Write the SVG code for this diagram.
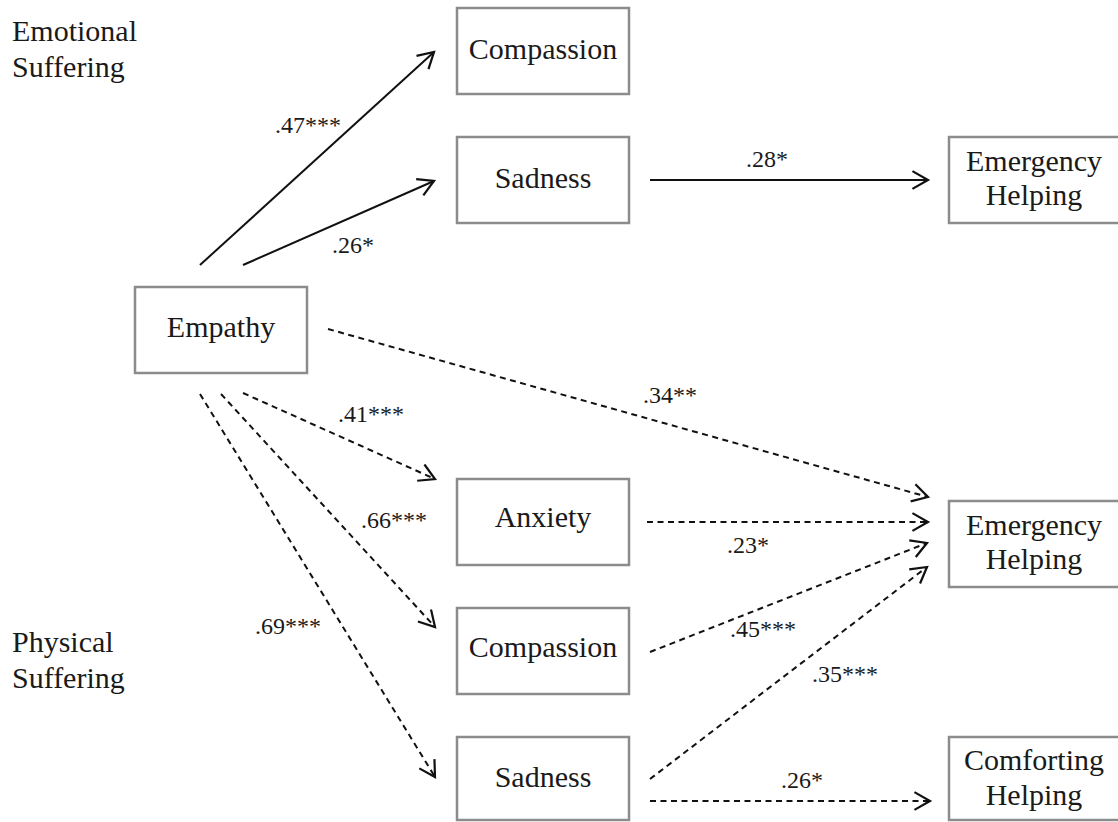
<svg xmlns="http://www.w3.org/2000/svg" width="1118" height="822" viewBox="0 0 1118 822">
<style>
.box{fill:#fff;stroke:#8c8c8c;stroke-width:2.5}
.t{font-family:"Liberation Serif","Times New Roman",serif;font-size:30px;fill:#1a1a1a}
.c{text-anchor:middle}
.lab{font-family:"Liberation Serif","Times New Roman",serif;font-size:24px;fill:#1a1a1a}
.solid{stroke:#111;stroke-width:2;fill:none;marker-end:url(#ah)}
.dash{stroke:#111;stroke-width:2;fill:none;stroke-dasharray:6 4.5;marker-end:url(#ah)}
</style>
<defs>
<marker id="ah" markerUnits="userSpaceOnUse" markerWidth="20" markerHeight="20" viewBox="-1 -1 18 18" refX="14" refY="8" orient="auto">
<path d="M0,0 L14,8 L0,16" fill="none" stroke="#111" stroke-width="2"/>
</marker>
</defs>
<rect width="1118" height="822" fill="#fff"/>
<g id="group-labels">
<text class="t" x="12" y="41">Emotional</text>
<text class="t" x="12" y="77">Suffering</text>
<text class="t" x="12" y="652">Physical</text>
<text class="t" x="12" y="688">Suffering</text>
</g>
<g id="connectors">
<line class="solid" x1="200" y1="265" x2="434" y2="52"/>
<line class="solid" x1="243" y1="265" x2="434" y2="181"/>
<line class="solid" x1="650" y1="180" x2="928" y2="180"/>
<line class="dash" x1="328" y1="329" x2="928" y2="497"/>
<line class="dash" x1="243" y1="393" x2="435" y2="479"/>
<line class="dash" x1="221" y1="394" x2="435" y2="627"/>
<line class="dash" x1="200" y1="394" x2="435" y2="777"/>
<line class="dash" x1="647" y1="522" x2="928" y2="522"/>
<line class="dash" x1="650" y1="652" x2="927" y2="543"/>
<line class="dash" x1="650" y1="779" x2="927" y2="567"/>
<line class="dash" x1="650" y1="801" x2="930" y2="801"/>
<text class="lab" x="275" y="133">.47***</text>
<text class="lab" x="332" y="253">.26*</text>
<text class="lab" x="746" y="167">.28*</text>
<text class="lab" x="643" y="403">.34**</text>
<text class="lab" x="338" y="422">.41***</text>
<text class="lab" x="361" y="528">.66***</text>
<text class="lab" x="727" y="553">.23*</text>
<text class="lab" x="255" y="634">.69***</text>
<text class="lab" x="730" y="637">.45***</text>
<text class="lab" x="812" y="682">.35***</text>
<text class="lab" x="781" y="788">.26*</text>
</g>
<g id="node-empathy">
<rect class="box" x="135" y="287" width="172" height="86"/>
<text class="t c" x="221" y="337">Empathy</text>
</g>
<g id="node-compassion-emotional">
<rect class="box" x="457" y="8" width="172" height="86"/>
<text class="t c" x="543" y="59">Compassion</text>
</g>
<g id="node-sadness-emotional">
<rect class="box" x="457" y="137" width="172" height="86"/>
<text class="t c" x="543" y="188">Sadness</text>
</g>
<g id="node-emergency-emotional">
<rect class="box" x="949" y="137" width="172" height="86"/>
<text class="t c" x="1034" y="171">Emergency</text>
<text class="t c" x="1034" y="205">Helping</text>
</g>
<g id="node-anxiety">
<rect class="box" x="457" y="479" width="172" height="86"/>
<text class="t c" x="543" y="527">Anxiety</text>
</g>
<g id="node-compassion-physical">
<rect class="box" x="457" y="608" width="172" height="86"/>
<text class="t c" x="543" y="657">Compassion</text>
</g>
<g id="node-sadness-physical">
<rect class="box" x="457" y="737" width="172" height="83"/>
<text class="t c" x="543" y="787">Sadness</text>
</g>
<g id="node-emergency-physical">
<rect class="box" x="949" y="501" width="172" height="86"/>
<text class="t c" x="1034" y="535">Emergency</text>
<text class="t c" x="1034" y="569">Helping</text>
</g>
<g id="node-comforting">
<rect class="box" x="949" y="737" width="172" height="83"/>
<text class="t c" x="1034" y="770">Comforting</text>
<text class="t c" x="1034" y="805">Helping</text>
</g>
</svg>
